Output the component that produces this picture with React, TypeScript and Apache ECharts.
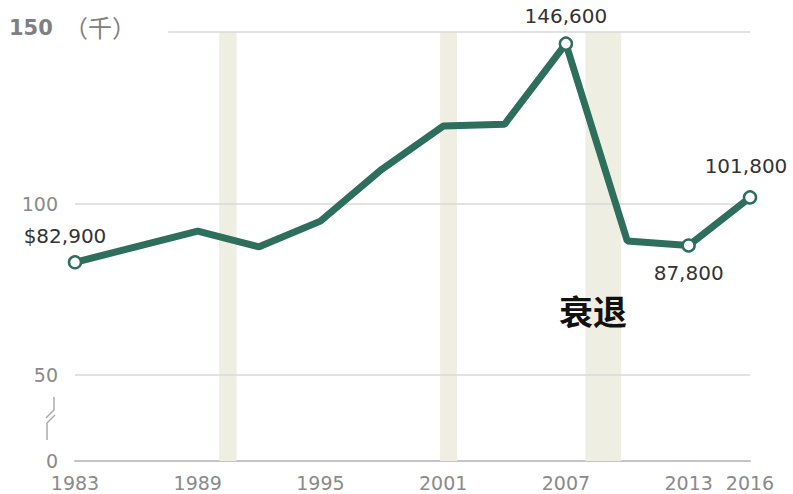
import React, { useEffect, useRef } from "react";
import * as echarts from "echarts";

const years = [1983, 1989, 1992, 1995, 1998, 2001, 2004, 2007, 2010, 2013, 2016];
const wealth = [82.9, 92.0, 87.4, 94.9, 110.0, 122.6, 123.1, 146.6, 89.1, 87.8, 101.8];
const labelTexts: Record<number, string> = {
  1983: "$82,900",
  2007: "146,600",
  2013: "87,800",
  2016: "101,800",
};
const xTickLabels = [1983, 1989, 1995, 2001, 2007, 2013, 2016];
const recessions: [number, number][] = [
  [1990.05, 1990.9],
  [2000.85, 2001.68],
  [2007.95, 2009.7],
];
const yGridValues = [50, 100];

const GREEN = "#2d6e5c";
const GREY = "#8a8a8a";
const FONT = "DejaVu Sans, sans-serif";

export default function App() {
  const ref = useRef<HTMLDivElement>(null);
  useEffect(() => {
    if (!ref.current) return;
    const chart = echarts.init(ref.current, null, { renderer: "svg" });
    const labelCfg = (y: number) => {
      if (y === 1983) return { show: true, position: "top", distance: 9, offset: [-10, 0] };
      if (y === 2007) return { show: true, position: "top", distance: 10 };
      if (y === 2013) return { show: true, position: "bottom", distance: 10 };
      if (y === 2016) return { show: true, position: "top", distance: 14, offset: [-4, 0] };
      return { show: false };
    };
    const data = years.map((y, i) => {
      const marked = labelTexts[y] !== undefined;
      return {
        value: [y, wealth[i]],
        symbol: marked ? "circle" : "none",
        symbolSize: 12,
        label: { ...labelCfg(y), formatter: labelTexts[y] || "" },
      };
    });
    chart.setOption({
      animation: false,
      grid: { left: 75, right: 43, top: 32, bottom: 33 },
      xAxis: {
        type: "value",
        min: 1983,
        max: 2016,
        axisLine: { show: true, lineStyle: { color: "#c4c4c4", width: 2 } },
        axisTick: { show: false },
        splitLine: { show: false },
        axisLabel: {
          customValues: xTickLabels,
          color: GREY,
          fontSize: 19,
          fontFamily: FONT,
          margin: 12,
          formatter: (v: number) => String(v),
        },
      },
      yAxis: {
        type: "value",
        min: 25,
        max: 150,
        interval: 25,
        axisLine: { show: false },
        axisTick: { show: false },
        splitLine: { show: false },
        axisLabel: {
          customValues: [25, 50, 100],
          color: GREY,
          fontSize: 19,
          fontFamily: FONT,
          margin: 17,
          formatter: (v: number) => (v === 25 ? "0" : String(v)),
        },
      },
      series: [
        {
          type: "line",
          data,
          lineStyle: { color: GREEN, width: 7 },
          itemStyle: { color: "#ffffff", borderColor: GREEN, borderWidth: 2.5 },
          z: 5,
          label: {
            color: "#333333",
            fontSize: 20,
            fontFamily: FONT,
          },
          markArea: {
            silent: true,
            itemStyle: { color: "#eeeee3" },
            data: recessions.map(([a, b]) => [{ xAxis: a, yAxis: 25 }, { xAxis: b, yAxis: 150 }]),
          },
          markLine: {
            silent: true,
            symbol: "none",
            label: { show: false },
            lineStyle: { color: "#d9d9d9", width: 1.5, type: "solid" },
            data: [
              ...yGridValues.map((v) => ({ yAxis: v })),
              [{ coord: [1987.55, 150] }, { coord: [2016, 150] }],
            ],
          },
        },
      ],
      graphic: [
        {
          type: "text",
          left: 9,
          top: 17,
          z: 100,
          style: {
            text: "150",
            fill: "#808080",
            fontSize: 21,
            fontWeight: "bold",
            fontFamily: FONT,
          },
        },
        {
          type: "text",
          left: 64,
          top: 14,
          z: 100,
          style: {
            text: "（千）",
            fill: "#808080",
            fontSize: 24,
            fontFamily: "Noto Sans CJK SC",
          },
        },
        {
          type: "text",
          left: 559,
          top: 293,
          z: 100,
          style: {
            text: "衰退",
            fill: "#111111",
            fontSize: 34,
            fontWeight: "bold",
            fontFamily: "Noto Sans CJK SC",
          },
        },
        {
          type: "polyline",
          z: 100,
          shape: { points: [[54, 397], [54, 410], [46, 418]] },
          style: { stroke: "#aaaaaa", lineWidth: 1.5, fill: "none" },
        },
        {
          type: "polyline",
          z: 100,
          shape: { points: [[55, 415], [47, 423], [47, 440]] },
          style: { stroke: "#aaaaaa", lineWidth: 1.5, fill: "none" },
        },
      ],
    });
    return () => chart.dispose();
  }, []);
  return <div ref={ref} style={{ width: 793, height: 494, position: "absolute", left: 0, top: 0 }} />;
}
